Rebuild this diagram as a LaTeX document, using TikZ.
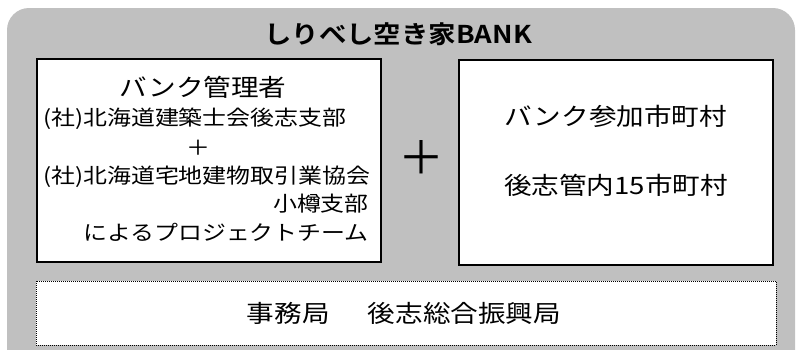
\documentclass[tikz,border=0pt]{standalone}
\usepackage{fontspec}
\setmainfont{Noto Sans CJK JP}
\newfontfamily\jpfont[FakeStretch=1.15]{Noto Sans CJK JP}
\newfontfamily\jpbold[FakeStretch=1.12]{Noto Sans CJK JP Bold}
\definecolor{bankgray}{RGB}{192,192,192}
\tikzset{
  panel/.style={draw=black, line width=1.6pt, fill=white, inner sep=0pt},
  office/.style={draw=black, dash pattern=on 1pt off 1pt, line width=1pt, fill=white, inner sep=0pt},
  label/.style={inner sep=0pt, font=\jpfont\fontsize{20.8}{24}\selectfont},
  biglabel/.style={inner sep=0pt, font=\jpfont\fontsize{24}{28}\selectfont}
}
\begin{document}
\begin{tikzpicture}[x=1pt,y=-1pt]
  \useasboundingbox (0,0) rectangle (796,349);
  % background panel
  \fill[bankgray, rounded corners=22pt] (7,8) rectangle (795,375);
  \node[inner sep=0pt, font=\jpbold\fontsize{24.5}{28}\selectfont] (title) at (398,34) {しりべし空き家BANK};

  % boxes
  \node[panel, minimum width=344pt, minimum height=203pt] (mgr) at (209,160.5) {};
  \node[panel, minimum width=314pt, minimum height=205pt] (city) at (616,162.5) {};
  \node[office, minimum width=740pt, minimum height=64pt] (office) at (406,313) {};

  % bank manager
  \node[biglabel] (mgrhead) at (203,87) {バンク管理者};
  \node[label, anchor=west] (arch) at (43,119) {(社)北海道建築士会後志支部};
  \node[label] (mgrplus) at (198,148) {＋};
  \node[label, anchor=west] (realty) at (43,177) {(社)北海道宅地建物取引業協会};
  \node[label, anchor=east] (otaru) at (369,204) {小樽支部};
  \node[label, anchor=east] (team) at (369,232) {によるプロジェクトチーム};

  % joining plus
  \node[inner sep=0pt, font=\fontsize{46}{46}\selectfont] (plus) at (421,157) {＋};

  % member towns
  \node[biglabel] (cityhead) at (616,116) {バンク参加市町村};
  \node[biglabel] (citynum) at (616,185) {後志管内15市町村};

  % office
  \node[biglabel] (officetext) at (404,313) {事務局\hspace{1.6em}後志総合振興局};
\end{tikzpicture}
\end{document}
